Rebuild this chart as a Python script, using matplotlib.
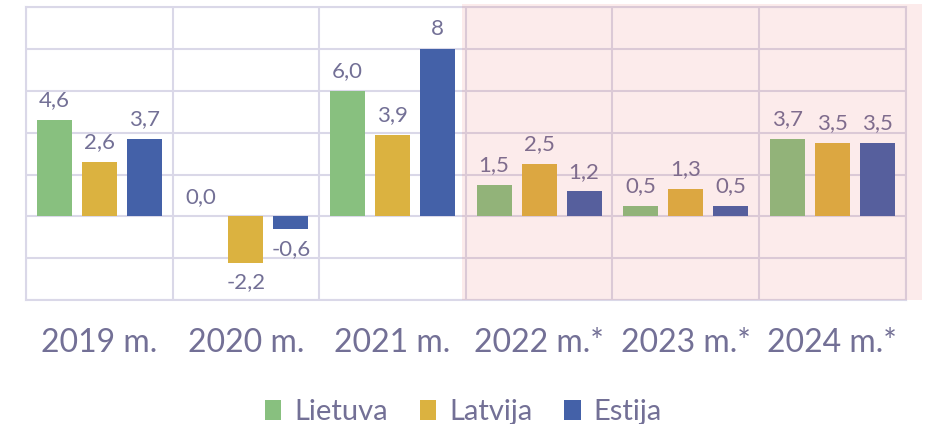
import matplotlib
matplotlib.use("Agg")
import matplotlib.pyplot as plt
import numpy as np
from matplotlib.patches import Rectangle

# ---------------- data ----------------
years = ["2019 m.", "2020 m.", "2021 m.", "2022 m.*", "2023 m.*", "2024 m.*"]
lietuva = [4.6, 0.0, 6.0, 1.5, 0.5, 3.7]
latvija = [2.6, -2.2, 3.9, 2.5, 1.3, 3.5]
estija = [3.7, -0.6, 8.0, 1.2, 0.5, 3.5]
series_names = ["Lietuva", "Latvija", "Estija"]
forecast_start = 3  # index of first forecast year

colors = ["#88C07F", "#DBB240", "#4461A8"]
text_color = "#737096"
grid_color = "#DAD8E8"

plt.rcParams["font.family"] = ["Lato", "DejaVu Sans"]

fig = plt.figure(figsize=(9.27, 4.24), dpi=100)
ax = fig.add_axes([0.028, 0.292, 0.949, 0.691])

x = np.arange(len(years))
offset = 0.307
width = 0.24

def fmt(v):
    if v == int(v) and v >= 8:
        return f"{int(v)}"
    return f"{v:.1f}".replace(".", ",")

for i, (vals, name) in enumerate(zip([lietuva, latvija, estija], series_names)):
    pos = x + (i - 1) * offset
    ax.bar(pos, vals, width, color=colors[i], label=name, zorder=2)
    for p, v in zip(pos, vals):
        if v >= 0:
            ax.annotate(fmt(v), (p, v), xytext=(0, 7), textcoords="offset points",
                        ha="center", va="bottom", fontsize=16, color=text_color)
        else:
            ax.annotate(fmt(v), (p, v), xytext=(0, -7), textcoords="offset points",
                        ha="center", va="top", fontsize=16, color=text_color)

ax.set_xlim(-0.5, len(years) - 0.5)
ax.set_ylim(-4, 10)
ax.set_yticks(np.arange(-4, 11, 2))
ax.set_yticklabels([])
ax.set_xticks(x)
ax.set_xticklabels(years, fontsize=23, color=text_color)
ax.set_xticks(np.arange(-0.5, len(years), 1), minor=True)
ax.tick_params(axis="both", which="both", length=0)
ax.tick_params(axis="x", pad=20)
ax.grid(axis="y", which="major", color=grid_color, linewidth=1.5, zorder=0)
ax.grid(axis="x", which="minor", color=grid_color, linewidth=1.5, zorder=0)
ax.set_axisbelow(True)
for s in ax.spines.values():
    s.set_color(grid_color)
    s.set_linewidth(1.5)

# forecast shading (semi-transparent overlay)
shade = Rectangle((forecast_start - 0.527, -4), 3.136, 14.14, facecolor="#E8504A",
                  alpha=0.11, edgecolor="none", zorder=3, clip_on=False)
ax.add_patch(shade)

fig.legend(loc="lower center", bbox_to_anchor=(0.5, -0.065), ncol=3, frameon=False,
           fontsize=21, labelcolor=text_color, handlelength=0.55, handleheight=0.7,
           handletextpad=0.45, columnspacing=1.1)

fig.savefig("out.png", dpi=100)
